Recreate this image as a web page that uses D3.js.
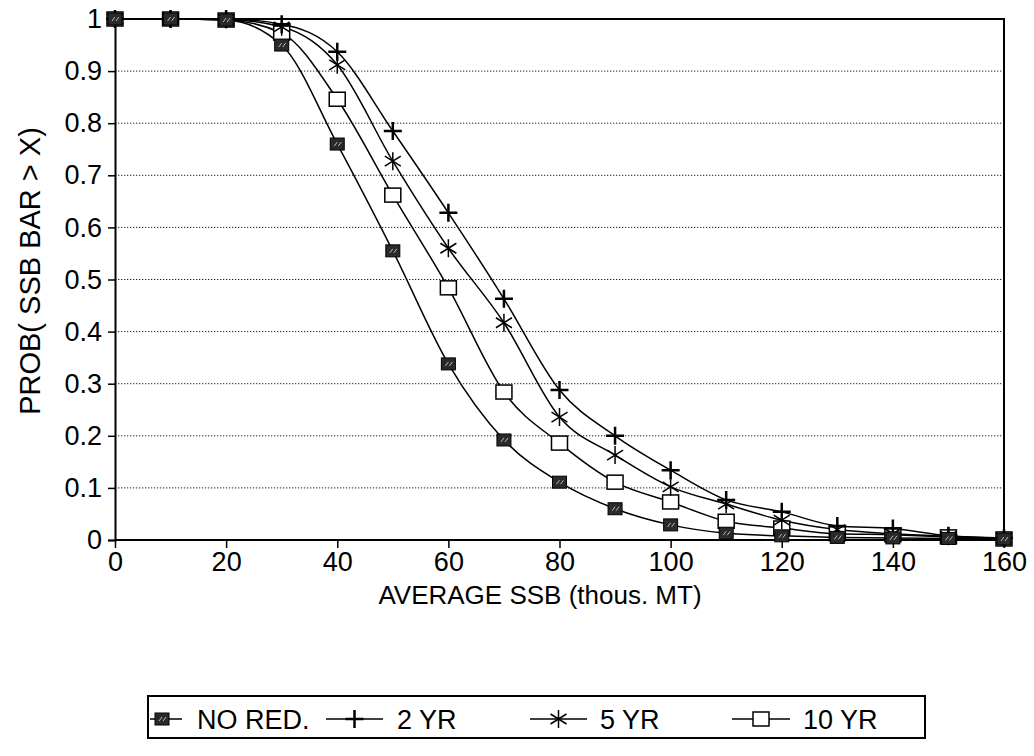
<!DOCTYPE html>
<html>
<head>
<meta charset="utf-8">
<script src="https://cdn.jsdelivr.net/npm/d3@7"></script>
<style>
  body { margin: 0; background: #fff; }
  svg { display: block; font-family: Arial, "Liberation Sans", sans-serif; }
</style>
</head>
<body>
<svg width="1034" height="756"></svg>
<script>
  // values
  const ssb = [0, 10, 20, 30, 40, 50, 60, 70, 80, 90, 100, 110, 120, 130, 140, 150, 160];
  const noRed = [1, 1, 0.998, 0.95, 0.76, 0.555, 0.338, 0.192, 0.111, 0.06, 0.029, 0.013, 0.008, 0.005, 0.004, 0.003, 0.002];
  const yr2 = [1, 1, 1, 0.99, 0.937, 0.785, 0.628, 0.463, 0.288, 0.2, 0.134, 0.077, 0.054, 0.027, 0.022, 0.008, 0.004];
  const yr5 = [1, 1, 0.999, 0.985, 0.912, 0.727, 0.56, 0.417, 0.236, 0.163, 0.102, 0.069, 0.038, 0.02, 0.012, 0.007, 0.003];
  const yr10 = [1, 1, 0.998, 0.973, 0.846, 0.662, 0.484, 0.284, 0.186, 0.111, 0.073, 0.036, 0.023, 0.012, 0.01, 0.006, 0.002];
  const seriesNames = ['NO RED.', '2 YR', '5 YR', '10 YR'];
  const seriesMarks = ['filled', 'plus', 'star', 'open'];
  const xTicks = [0, 20, 40, 60, 80, 100, 120, 140, 160];
  const yTicks = [0, 0.1, 0.2, 0.3, 0.4, 0.5, 0.6, 0.7, 0.8, 0.9, 1];

  const svg = d3.select('svg');
  const x = d3.scaleLinear().domain([0, 160]).range([115, 1004]);
  const y = d3.scaleLinear().domain([0, 1]).range([540, 19]);

  // dotted grid
  svg.append('g')
    .selectAll('line')
    .data(yTicks.slice(1, -1))
    .enter().append('line')
      .attr('x1', x(0)).attr('x2', x(160))
      .attr('y1', d => y(d)).attr('y2', d => y(d))
      .attr('stroke', '#222')
      .attr('stroke-width', 1)
      .attr('stroke-dasharray', '1.3,1.7');

  // frame: top and right
  svg.append('path')
    .attr('d', `M${x(0)},${y(1)}H${x(160)}V${y(0)}`)
    .attr('fill', 'none').attr('stroke', '#000').attr('stroke-width', 2);

  const yAxis = d3.axisLeft(y).tickValues(yTicks).tickSize(7).tickPadding(6)
    .tickFormat(d => d === 0 ? '0' : d === 1 ? '1' : d3.format('.1f')(d));
  const gy = svg.append('g').attr('transform', `translate(${x(0)},0)`).call(yAxis);
  gy.select('.domain').attr('stroke-width', 2);
  gy.selectAll('.tick line').attr('stroke-width', 1.5);
  gy.selectAll('text').attr('font-size', 27).attr('fill', '#000').attr('font-family', 'Arial, "Liberation Sans", sans-serif');

  const xAxis = d3.axisBottom(x).tickValues(xTicks).tickSize(8).tickPadding(4);
  const gx = svg.append('g').attr('transform', `translate(0,${y(0)})`).call(xAxis);
  gx.select('.domain').attr('stroke-width', 2).attr('d', `M${x(0)},0H${x(160)}`);
  gx.selectAll('.tick line').attr('stroke-width', 1.5);
  gx.selectAll('text').attr('font-size', 27).attr('fill', '#000').attr('font-family', 'Arial, "Liberation Sans", sans-serif');

  svg.append('text')
    .attr('x', 540).attr('y', 604)
    .attr('text-anchor', 'middle')
    .attr('font-size', 26)
    .text('AVERAGE SSB (thous. MT)');

  svg.append('text')
    .attr('transform', 'translate(40,271) rotate(-90)')
    .attr('text-anchor', 'middle')
    .attr('font-size', 29)
    .text('PROB( SSB BAR > X)');

  // markers
  function drawMark(sel, kind) {
    if (kind === 'filled') {
      sel.append('rect').attr('x', -7).attr('y', -6).attr('width', 14).attr('height', 12)
        .attr('fill', '#2a2a2a').attr('stroke', '#000').attr('stroke-width', 1);
      sel.append('path').attr('d', 'M-3,2L0,-2M1,2L4,-2').attr('stroke', '#bbb').attr('stroke-width', 1);
    } else if (kind === 'open') {
      sel.append('rect').attr('x', -8).attr('y', -7).attr('width', 16).attr('height', 14)
        .attr('fill', '#fff').attr('stroke', '#000').attr('stroke-width', 1.5);
    } else if (kind === 'plus') {
      sel.append('path').attr('d', 'M-9,0H9M0,-9V9').attr('stroke', '#000').attr('stroke-width', 2.5);
    } else {
      sel.append('path').attr('d', 'M0,-9V9M-8,-5L8,5M-8,5L8,-5').attr('stroke', '#000').attr('stroke-width', 1.5);
    }
  }

  const allSeries = [noRed, yr2, yr5, yr10];
  const line = d3.line().x((d, i) => x(ssb[i])).y(d => y(d)).curve(d3.curveMonotoneX);

  allSeries.forEach((vals, k) => {
    svg.append('path')
      .attr('d', line(vals))
      .attr('fill', 'none').attr('stroke', '#000').attr('stroke-width', 1.5);
  });
  // draw markers after all lines; open squares drawn first so others show over
  [3, 2, 1, 0].forEach(k => {
    svg.append('g').selectAll('g')
      .data(allSeries[k])
      .enter().append('g')
        .attr('transform', (d, i) => `translate(${x(ssb[i])},${y(d)})`)
        .each(function () { drawMark(d3.select(this), seriesMarks[k]); });
  });

  // legend
  const legend = svg.append('g');
  legend.append('rect')
    .attr('x', 148).attr('y', 696).attr('width', 777).attr('height', 42)
    .attr('fill', 'none').attr('stroke', '#000').attr('stroke-width', 2);
  const legLineX = [[150, 182], [326, 383], [530, 587], [732, 790]];
  const legTextX = [197, 397, 600, 803];
  seriesNames.forEach((name, k) => {
    const cy = 719;
    legend.append('line')
      .attr('x1', legLineX[k][0]).attr('x2', legLineX[k][1])
      .attr('y1', cy).attr('y2', cy)
      .attr('stroke', '#000').attr('stroke-width', 1.5);
    const m = legend.append('g')
      .attr('transform', `translate(${k === 0 ? 162 : (legLineX[k][0] + legLineX[k][1]) / 2},${cy})`);
    drawMark(m, seriesMarks[k]);
    legend.append('text')
      .attr('x', legTextX[k]).attr('y', cy + 10)
      .attr('font-size', 27)
      .text(name);
  });
</script>
</body>
</html>
